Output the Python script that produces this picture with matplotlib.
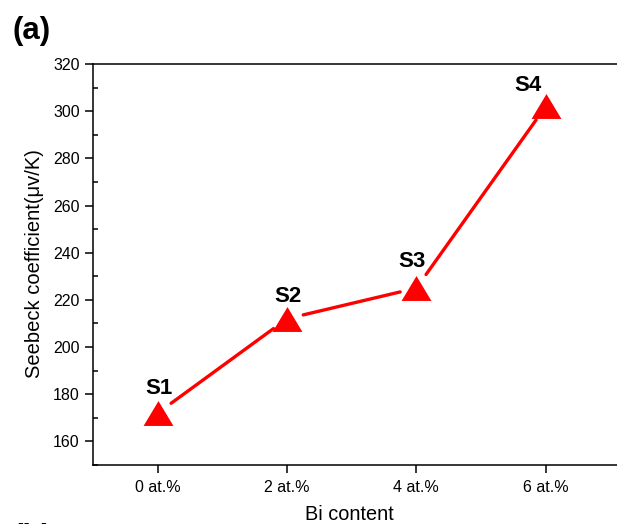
import matplotlib
matplotlib.use('Agg')
import matplotlib.pyplot as plt
from matplotlib.ticker import MultipleLocator

plt.rcParams['font.family'] = ['Liberation Sans', 'DejaVu Sans']

bi_content = [0, 2, 4, 6]
tick_labels = ['0 at.%', '2 at.%', '4 at.%', '6 at.%']
seebeck = [172, 212, 225, 302]
sample_names = ['S1', 'S2', 'S3', 'S4']

fig = plt.figure(figsize=(6.17, 5.24), dpi=100)
ax = fig.add_axes([0.1507, 0.1126, 0.891, 0.7653])

# triangle a bit wider than tall, like the Origin marker
tri = [(-0.6, -0.5), (0.6, -0.5), (0.0, 0.5), (-0.6, -0.5)]
ax.plot(bi_content, seebeck, linestyle='none', marker=tri, markersize=21.5,
        color='#ff0000', markeredgewidth=0, zorder=3)

# connecting line with gaps next to the markers
for i in range(len(bi_content) - 1):
    ax.annotate('', xy=(bi_content[i+1], seebeck[i+1]),
                xytext=(bi_content[i], seebeck[i]),
                arrowprops=dict(arrowstyle='-', color='#ff0000', lw=2.4,
                                shrinkA=12, shrinkB=12))

offsets = [(1, 14), (1, 12), (-3, 15), (-13, 11)]
for i in range(len(sample_names)):
    ax.annotate(sample_names[i], (bi_content[i], seebeck[i]),
                xytext=offsets[i], textcoords='offset points',
                ha='center', va='baseline', fontsize=16, fontweight='bold')

ax.set_xlim(-1, 7.5)
ax.set_ylim(150, 320)
ax.set_xticks(bi_content)
ax.set_xticklabels(tick_labels)
ax.yaxis.set_major_locator(MultipleLocator(20))
ax.yaxis.set_minor_locator(MultipleLocator(10))

ax.tick_params(axis='both', which='major', direction='out', length=6,
               width=1.1, labelsize=11.5, pad=3.5)
ax.tick_params(axis='x', which='major', pad=5)
ax.tick_params(axis='y', which='minor', direction='in', length=3.5, width=1.1)
ax.spines['right'].set_visible(False)
for s in ['left', 'bottom', 'top']:
    ax.spines[s].set_linewidth(1.1)

fig.text(349/617, 1 - 515/524, 'Bi content', ha='center', va='center',
         fontsize=14.3)
fig.text(35/617, 1 - 264/524, 'Seebeck coefficient(\u03bcv/K)', ha='center',
         va='center', rotation=90, fontsize=14.5)

fig.text(12/617, 1 - 39/524, '(a)', fontsize=22.5, fontweight='bold',
         ha='left', va='baseline')
fig.text(12/617, 1 - 546/524, '(b)', fontsize=22.5, fontweight='bold',
         ha='left', va='baseline')

fig.savefig('out.png', dpi=100)
